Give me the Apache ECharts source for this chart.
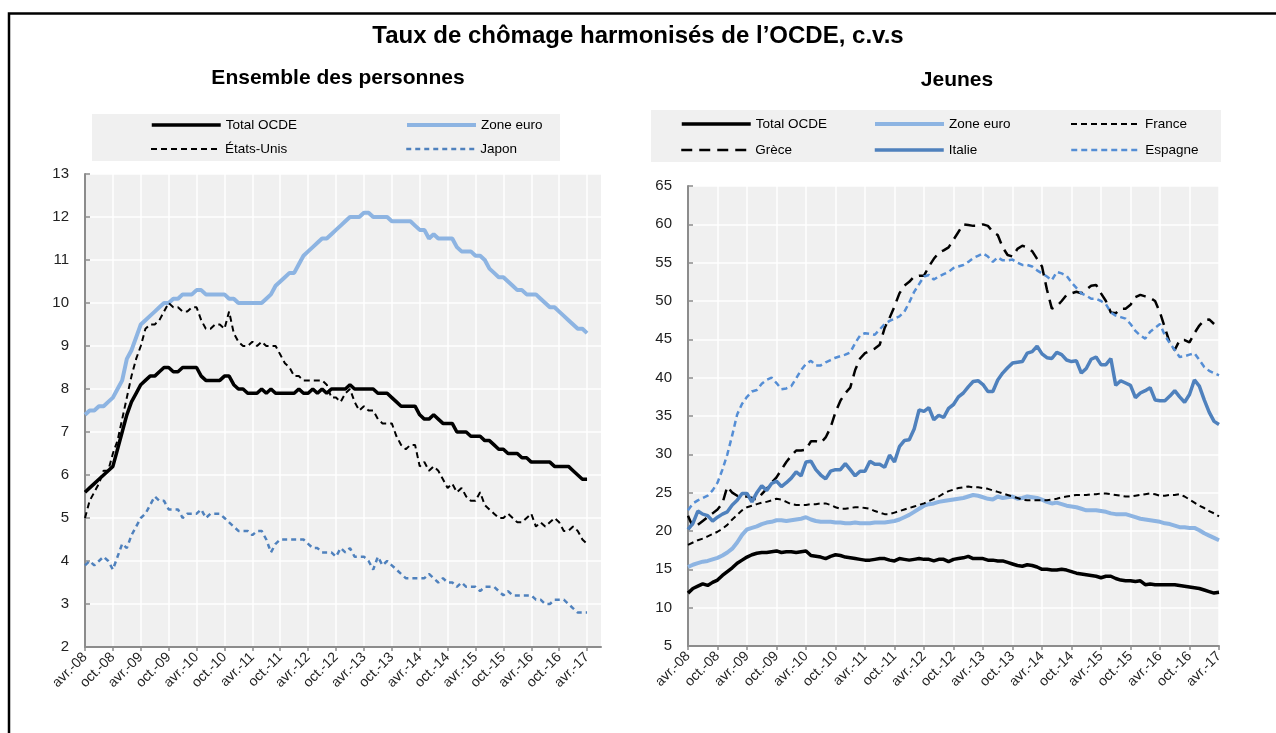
<!DOCTYPE html>
<html>
<head>
<meta charset="utf-8">
<title>Taux de chômage harmonisés de l'OCDE</title>
<script src="https://cdn.jsdelivr.net/npm/echarts@6.0.0/dist/echarts.min.js"></script>
<style>
  html, body { margin: 0; padding: 0; background: #fff; }
  #chart { width: 1276px; height: 733px; }
</style>
</head>
<body>
<div id="chart"></div>
<script>
  // mois affichés : avr.-08 ... (une ligne = avril à mars)
  var nomsMois = ['janv.', 'févr.', 'mars', 'avr.', 'mai', 'juin', 'juil.', 'août', 'sept.', 'oct.', 'nov.', 'déc.'];

  // Ensemble des personnes (%)
  var totalOcde = [
    5.6, 5.7, 5.8, 5.9, 6.0, 6.1, 6.2, 6.6, 7.0, 7.4, 7.7, 7.9,
    8.1, 8.2, 8.3, 8.3, 8.4, 8.5, 8.5, 8.4, 8.4, 8.5, 8.5, 8.5,
    8.5, 8.3, 8.2, 8.2, 8.2, 8.2, 8.3, 8.3, 8.1, 8.0, 8.0, 7.9,
    7.9, 7.9, 8.0, 7.9, 8.0, 7.9, 7.9, 7.9, 7.9, 7.9, 8.0, 7.9,
    7.9, 8.0, 7.9, 8.0, 7.9, 8.0, 8.0, 8.0, 8.0, 8.1, 8.0, 8.0,
    8.0, 8.0, 8.0, 7.9, 7.9, 7.9, 7.8, 7.7, 7.6, 7.6, 7.6, 7.6,
    7.4, 7.3, 7.3, 7.4, 7.3, 7.2, 7.2, 7.2, 7.0, 7.0, 7.0, 6.9,
    6.9, 6.9, 6.8, 6.8, 6.7, 6.6, 6.6, 6.5, 6.5, 6.5, 6.4, 6.4,
    6.3, 6.3, 6.3, 6.3, 6.3, 6.2, 6.2, 6.2, 6.2, 6.1, 6.0, 5.9,
    5.9
  ];
  var zoneEuro = [
    7.4, 7.5, 7.5, 7.6, 7.6, 7.7, 7.8, 8.0, 8.2, 8.7, 8.9, 9.2,
    9.5, 9.6, 9.7, 9.8, 9.9, 10.0, 10.0, 10.1, 10.1, 10.2, 10.2, 10.2,
    10.3, 10.3, 10.2, 10.2, 10.2, 10.2, 10.2, 10.1, 10.1, 10.0, 10.0, 10.0,
    10.0, 10.0, 10.0, 10.1, 10.2, 10.4, 10.5, 10.6, 10.7, 10.7, 10.9, 11.1,
    11.2, 11.3, 11.4, 11.5, 11.5, 11.6, 11.7, 11.8, 11.9, 12.0, 12.0, 12.0,
    12.1, 12.1, 12.0, 12.0, 12.0, 12.0, 11.9, 11.9, 11.9, 11.9, 11.9, 11.8,
    11.7, 11.7, 11.5, 11.6, 11.5, 11.5, 11.5, 11.5, 11.3, 11.2, 11.2, 11.2,
    11.1, 11.1, 11.0, 10.8, 10.7, 10.6, 10.6, 10.5, 10.4, 10.3, 10.3, 10.2,
    10.2, 10.2, 10.1, 10.0, 9.9, 9.9, 9.8, 9.7, 9.6, 9.5, 9.4, 9.4,
    9.3
  ];
  var etatsUnis = [
    5.0, 5.4, 5.6, 5.8, 6.1, 6.1, 6.5, 6.8, 7.3, 7.8, 8.3, 8.7,
    9.0, 9.4, 9.5, 9.5, 9.6, 9.8, 10.0, 9.9, 9.9, 9.8, 9.8, 9.9,
    9.9, 9.6, 9.4, 9.4, 9.5, 9.5, 9.4, 9.8, 9.3, 9.1, 9.0, 9.0,
    9.1, 9.0, 9.1, 9.0, 9.0, 9.0, 8.8, 8.6, 8.5, 8.3, 8.3, 8.2,
    8.2, 8.2, 8.2, 8.2, 8.1, 7.8, 7.8, 7.7, 7.9, 8.0, 7.7, 7.5,
    7.6, 7.5, 7.5, 7.3, 7.2, 7.2, 7.2, 6.9, 6.7, 6.6, 6.7, 6.7,
    6.2, 6.3, 6.1, 6.2, 6.1, 5.9, 5.7, 5.8, 5.6, 5.7, 5.5, 5.4,
    5.4, 5.6, 5.3, 5.2, 5.1, 5.0, 5.0, 5.1, 5.0, 4.9, 4.9, 5.0,
    5.1, 4.8, 4.9, 4.8, 4.9, 5.0, 4.9, 4.7, 4.7, 4.8, 4.7, 4.5,
    4.4
  ];
  var japon = [
    3.9, 4.0, 3.9, 4.0, 4.1, 4.0, 3.8, 4.1, 4.4, 4.3, 4.6, 4.8,
    5.0, 5.1, 5.3, 5.5, 5.4, 5.4, 5.2, 5.2, 5.2, 5.0, 5.1, 5.1,
    5.1, 5.2, 5.0, 5.1, 5.1, 5.1, 5.0, 4.9, 4.8, 4.7, 4.7, 4.7,
    4.6, 4.7, 4.7, 4.5, 4.2, 4.4, 4.5, 4.5, 4.5, 4.5, 4.5, 4.5,
    4.4, 4.3, 4.3, 4.2, 4.2, 4.2, 4.1, 4.3, 4.2, 4.3, 4.1, 4.1,
    4.1, 4.0, 3.8, 4.1, 3.9, 4.0, 3.9, 3.8, 3.7, 3.6, 3.6, 3.6,
    3.6, 3.6, 3.7, 3.6, 3.5, 3.6, 3.5, 3.5, 3.4, 3.5, 3.4, 3.4,
    3.4, 3.3, 3.4, 3.4, 3.4, 3.3, 3.2, 3.3, 3.2, 3.2, 3.2, 3.2,
    3.2, 3.1, 3.1, 3.0, 3.0, 3.1, 3.1, 3.1, 3.0, 2.9, 2.8, 2.8,
    2.8
  ];

  // Jeunes (%)
  var jeunesTotal = [
    11.9, 12.5, 12.8, 13.1, 12.9, 13.3, 13.6, 14.2, 14.7, 15.2, 15.8, 16.2,
    16.6, 16.9, 17.1, 17.2, 17.2, 17.3, 17.4, 17.2, 17.3, 17.3, 17.2, 17.3,
    17.4, 16.8, 16.7, 16.6, 16.4, 16.7, 16.9, 16.8, 16.6, 16.5, 16.4, 16.3,
    16.2, 16.2, 16.3, 16.4, 16.4, 16.2, 16.1, 16.4, 16.3, 16.2, 16.3, 16.4,
    16.3, 16.3, 16.1, 16.3, 16.3, 16.0, 16.3, 16.4, 16.5, 16.7, 16.4, 16.4,
    16.4, 16.2, 16.2, 16.1, 16.1, 15.9, 15.7, 15.5, 15.4, 15.6, 15.5, 15.3,
    15.0, 15.0, 14.9, 14.9, 15.0, 14.9, 14.7, 14.5, 14.4, 14.3, 14.2, 14.1,
    13.9, 14.1, 14.1, 13.8, 13.6, 13.5, 13.5, 13.4, 13.5, 13.0, 13.1, 13.0,
    13.0, 13.0, 13.0, 13.0, 12.9, 12.8, 12.7, 12.6, 12.5, 12.3, 12.1, 11.9,
    12.0
  ];
  var jeunesZoneEuro = [
    15.3, 15.6, 15.8, 16.0, 16.1, 16.3, 16.5, 16.8, 17.2, 17.7, 18.5, 19.5,
    20.2, 20.4, 20.6, 20.9, 21.1, 21.2, 21.4, 21.4, 21.3, 21.4, 21.5, 21.6,
    21.8, 21.5, 21.3, 21.2, 21.2, 21.2, 21.1, 21.1, 21.0, 21.0, 21.1, 21.0,
    21.0, 21.0, 21.1, 21.1, 21.1, 21.2, 21.3, 21.5, 21.8, 22.1, 22.5, 22.9,
    23.3, 23.5, 23.6, 23.8, 23.9, 24.0, 24.1, 24.2, 24.3, 24.5, 24.7, 24.6,
    24.4, 24.2, 24.1, 24.5, 24.3, 24.4, 24.5, 24.2, 24.3, 24.5, 24.4, 24.3,
    24.1, 23.8, 23.6, 23.7, 23.5, 23.3, 23.2, 23.1, 22.9, 22.7, 22.7, 22.7,
    22.6, 22.5, 22.3, 22.2, 22.2, 22.2, 22.0, 21.8, 21.6, 21.5, 21.4, 21.3,
    21.2, 21.0, 20.9, 20.7, 20.5, 20.5, 20.4, 20.4, 20.1, 19.7, 19.4, 19.1,
    18.8
  ];
  var jeunesFrance = [
    18.2, 18.5, 18.8, 19.0, 19.3, 19.6, 19.9, 20.3, 20.8, 21.5, 22.1, 22.7,
    23.1, 23.3, 23.5, 23.7, 23.8, 24.0, 24.2, 24.1, 23.8, 23.5, 23.4, 23.4,
    23.4, 23.5, 23.5, 23.6, 23.6, 23.4, 23.1, 22.9, 22.9, 23.0, 23.1, 23.1,
    23.0, 22.9, 22.6, 22.4, 22.2, 22.2, 22.4, 22.6, 22.8, 23.0, 23.2, 23.4,
    23.6, 23.9, 24.2, 24.5, 24.9, 25.2, 25.4, 25.6, 25.7, 25.8, 25.7, 25.7,
    25.6, 25.5, 25.3, 25.1, 24.9, 24.7, 24.5, 24.3, 24.1, 24.0, 24.0, 24.0,
    24.0, 24.0, 24.1, 24.2, 24.4, 24.5, 24.6, 24.7, 24.7, 24.7, 24.8, 24.8,
    24.9, 24.9, 24.8, 24.7, 24.6, 24.5, 24.5, 24.6, 24.7, 24.8, 24.9, 24.8,
    24.6, 24.6, 24.7, 24.7, 24.8, 24.5, 24.1, 23.7, 23.3, 23.0, 22.6, 22.3,
    21.9
  ];
  var jeunesGrece = [
    22.0, 20.5, 20.8, 21.3, 21.8, 22.3, 22.8, 23.6, 25.8, 25.0, 24.6, 24.5,
    24.5, 24.3, 24.1, 24.8, 25.5, 26.3, 27.0, 28.0, 29.0, 29.8, 30.5, 30.5,
    30.6, 31.7, 31.7, 31.5, 32.2, 33.5, 35.5, 37.0, 38.0, 38.7, 41.0, 42.5,
    43.2, 43.5, 43.8, 44.3, 46.5, 47.8, 49.3, 51.0, 52.0, 52.5, 53.2, 53.3,
    53.3, 54.5, 55.5, 56.3, 56.6, 57.0, 58.0, 59.0, 60.0, 59.9, 59.8, 59.8,
    60.0, 59.8, 59.0, 58.6, 57.0, 56.0, 55.8, 56.8, 57.2, 57.0, 56.5, 55.5,
    54.5, 51.5, 49.0, 49.3, 50.0, 50.8, 51.0, 51.2, 51.0, 51.5, 52.0, 52.1,
    51.0, 50.0, 48.5, 48.4, 49.0, 49.0, 49.5, 50.5, 50.8, 50.6, 50.4, 50.0,
    48.5, 46.5, 44.5, 43.6, 44.9, 44.9, 44.6, 45.8, 46.8, 47.5, 47.6, 47.0,
    null
  ];
  var jeunesItalie = [
    20.2, 21.0, 22.6, 22.2, 22.0, 21.3, 21.8, 22.2, 22.5, 23.4, 24.0, 24.9,
    24.9, 23.8, 25.0, 25.9, 25.3, 26.2, 26.5, 25.8, 26.3, 26.9, 27.7, 27.2,
    29.0, 29.1, 28.0, 27.3, 26.8, 27.8, 28.0, 28.0, 28.8, 28.0, 27.2, 27.8,
    27.8, 29.1, 28.7, 28.7, 28.3, 29.9, 29.0, 31.0, 31.8, 31.9, 33.3, 35.8,
    35.6, 36.1, 34.5, 35.1, 34.8, 36.0, 36.5, 37.5, 38.0, 38.8, 39.5, 39.6,
    39.1, 38.2, 38.2, 39.7, 40.6, 41.3, 41.9, 42.0, 42.1, 43.2, 43.4, 44.1,
    43.1, 42.6, 42.5, 43.3, 43.0, 42.3, 42.1, 42.2, 40.6, 41.2, 42.4, 42.7,
    41.7, 41.7, 42.5, 39.0, 39.6, 39.3, 39.0, 37.4, 38.0, 38.3, 38.7, 37.1,
    37.0, 37.0, 37.6, 38.3, 37.5, 36.8, 37.8, 39.7, 38.9, 37.1, 35.5, 34.3,
    33.9
  ];
  var jeunesEspagne = [
    22.7, 23.6, 24.0, 24.3, 24.6, 25.3, 26.3, 28.0, 30.0, 32.5, 35.2, 36.6,
    37.5, 38.2, 38.4, 39.2, 39.7, 40.0, 39.3, 38.5, 38.6, 38.9, 39.9, 41.0,
    41.8, 42.2, 41.6, 41.6, 42.0, 42.3, 42.6, 42.8, 43.0, 43.3, 44.5, 45.5,
    45.8, 45.7, 45.6, 46.3, 47.0, 47.4, 47.7, 48.0, 48.6, 49.8, 51.2, 52.2,
    53.2, 53.4, 52.8, 53.2, 53.5, 53.8, 54.3, 54.5, 54.7, 55.1, 55.6, 55.9,
    56.2, 55.8, 55.1, 55.7, 55.3, 55.3, 55.4, 55.0, 54.7, 54.7, 54.5, 54.0,
    53.6, 53.2, 52.7, 53.8, 53.6, 53.3, 52.4, 51.7, 51.0, 50.7, 50.3, 50.3,
    50.0, 49.6, 48.5, 48.1, 47.9, 47.7, 47.0, 46.1, 45.5, 45.1, 46.0, 46.5,
    47.0, 45.5, 44.5, 43.6, 42.7, 42.8, 43.0, 43.2, 42.3, 41.4, 40.9, 40.6,
    40.3
  ];

  // échelles des axes y
  var axeGauche = [2, 13, 1];
  var axeDroite = [5, 65, 5];

  // libellés de mois à partir d'avril 2008
  function periode(n) {
    var out = [];
    for (var i = 0; i < n; i++) {
      var k = 3 + i;
      var an = 8 + Math.floor(k / 12);
      out.push(nomsMois[k % 12] + '-' + (an < 10 ? '0' + an : an));
    }
    return out;
  }
  var moisGauche = periode(112); // l'axe va un peu au-delà d'avr.-17
  var moisDroite = periode(109);

  var police = '"Liberation Sans", Arial, sans-serif';
  var gris = '#8c8c8c';
  var noir = '#000000';
  var bleuClair = '#8db4e2';
  var bleu = '#4f81bd';
  var bleuEsp = '#558ed5';

  function serie(nom, data, idx, couleur, largeur, trait) {
    return {
      name: nom, type: 'line', data: data,
      xAxisIndex: idx, yAxisIndex: idx,
      symbol: 'none', connectNulls: false,
      lineStyle: { color: couleur, width: largeur, type: trait },
      itemStyle: { color: couleur },
      emphasis: { disabled: true }
    };
  }

  function axeX(idx, data) {
    return {
      type: 'category', gridIndex: idx, data: data, boundaryGap: false,
      axisLine: { lineStyle: { color: gris, width: 2 } },
      axisTick: { interval: 5, length: 4, lineStyle: { color: gris, width: 1.5 } },
      axisLabel: { interval: 5, rotate: 45, fontSize: 14, color: '#222', margin: 8, fontFamily: police },
      splitLine: { show: true, interval: 5, lineStyle: { color: '#ffffff', width: 1.5 } }
    };
  }

  function axeY(idx, e) {
    return {
      type: 'value', gridIndex: idx, min: e[0], max: e[1], interval: e[2],
      axisLine: { show: true, lineStyle: { color: gris, width: 2 } },
      axisTick: { show: true, inside: true, length: 5, lineStyle: { color: gris, width: 1.5 } },
      axisLabel: { fontSize: 15, color: '#222', margin: 16, fontFamily: police },
      splitLine: { lineStyle: { color: '#ffffff', width: 1.5 } }
    };
  }

  function legende(nom, x, y, largeur, texte) {
    return {
      data: [nom], left: x, top: y, padding: 0,
      itemWidth: 69, itemHeight: 14, selectedMode: false,
      itemStyle: { opacity: 0, borderWidth: 0 },
      lineStyle: { width: largeur },
      formatter: function () { return texte; },
      textStyle: { fontSize: 13.5, color: '#000', fontFamily: police }
    };
  }

  var myChart = echarts.init(document.getElementById('chart'), null, { renderer: 'canvas' });

  var option = {
    animation: false,
    backgroundColor: '#ffffff',
    grid: [
      { left: 85, top: 174, width: 516, height: 473, show: true, backgroundColor: '#f0f0f0', borderWidth: 0 },
      { left: 688, top: 186, width: 531, height: 460, show: true, backgroundColor: '#f0f0f0', borderWidth: 0 }
    ],
    xAxis: [axeX(0, moisGauche), axeX(1, moisDroite)],
    yAxis: [axeY(0, axeGauche), axeY(1, axeDroite)],
    legend: [
      legende('Total OCDE', 150, 118, 3.5, 'Total OCDE'),
      legende('Zone euro', 405, 118, 4, 'Zone euro'),
      legende('États-Unis', 150, 142, 2, 'États-Unis'),
      legende('Japon', 405, 142, 2.5, 'Japon'),
      legende('Total OCDE (jeunes)', 680, 117, 3.5, 'Total OCDE'),
      legende('Zone euro (jeunes)', 873, 117, 4, 'Zone euro'),
      legende('France', 1070, 117, 2, 'France'),
      legende('Grèce', 680, 143, 2.5, 'Grèce'),
      legende('Italie', 873, 143, 3.5, 'Italie'),
      legende('Espagne', 1070, 143, 2.5, 'Espagne')
    ],
    graphic: [
      { type: 'polyline', z: 0, shape: { points: [[9, 733], [9, 13.5], [1276, 13.5]] }, style: { stroke: '#000', lineWidth: 2.5, fill: null } },
      { type: 'rect', z: 0, shape: { x: 92, y: 114, width: 468, height: 47 }, style: { fill: '#f0f0f0' } },
      { type: 'rect', z: 0, shape: { x: 651, y: 110, width: 570, height: 52 }, style: { fill: '#f0f0f0' } },
      { type: 'text', z: 1, x: 638, y: 36, style: { text: 'Taux de chômage harmonisés de l’OCDE, c.v.s', fill: '#000', font: 'bold 24px ' + police, align: 'center', verticalAlign: 'middle', textAlign: 'center', textVerticalAlign: 'middle' } },
      { type: 'text', z: 1, x: 338, y: 78, style: { text: 'Ensemble des personnes', fill: '#000', font: 'bold 21px ' + police, align: 'center', verticalAlign: 'middle', textAlign: 'center', textVerticalAlign: 'middle' } },
      { type: 'text', z: 1, x: 957, y: 80, style: { text: 'Jeunes', fill: '#000', font: 'bold 21px ' + police, align: 'center', verticalAlign: 'middle', textAlign: 'center', textVerticalAlign: 'middle' } }
    ],
    series: [
      serie('Total OCDE', totalOcde, 0, noir, 3.5, 'solid'),
      serie('Zone euro', zoneEuro, 0, bleuClair, 4, 'solid'),
      serie('États-Unis', etatsUnis, 0, noir, 2, [6, 4]),
      serie('Japon', japon, 0, bleu, 2.5, [5, 4]),
      serie('Total OCDE (jeunes)', jeunesTotal, 1, noir, 3.5, 'solid'),
      serie('Zone euro (jeunes)', jeunesZoneEuro, 1, bleuClair, 4, 'solid'),
      serie('France', jeunesFrance, 1, noir, 2, [6, 4]),
      serie('Grèce', jeunesGrece, 1, noir, 2.5, [11, 7]),
      serie('Italie', jeunesItalie, 1, bleu, 3.5, 'solid'),
      serie('Espagne', jeunesEspagne, 1, bleuEsp, 2.5, [6, 4])
    ]
  };

  myChart.setOption(option);
  window.onresize = function () {
    myChart.resize();
  };
</script>
</body>
</html>
